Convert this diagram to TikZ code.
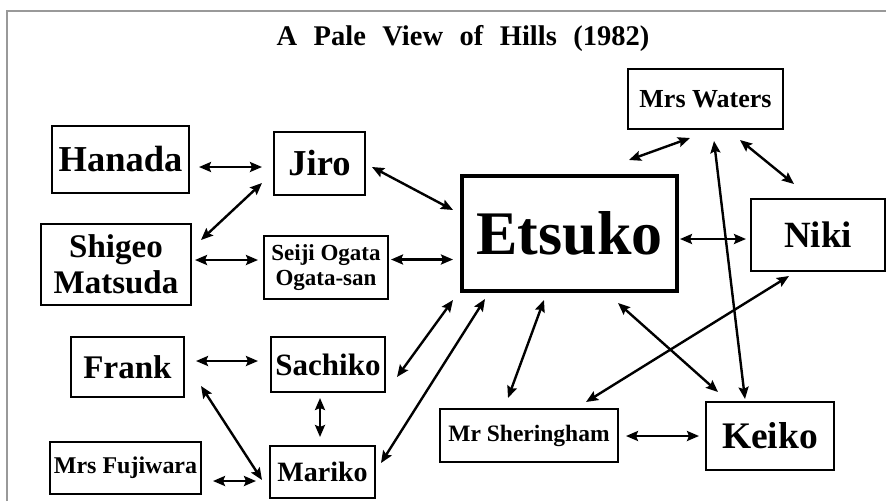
\documentclass[tikz,border=0pt]{standalone}
\usepackage{fontspec}
\setmainfont{Liberation Serif}
\usetikzlibrary{arrows.meta}
\newcommand\fsz[2]{\fontsize{#1}{#2}\selectfont\bfseries}
\tikzset{
  person/.style={draw, line width=2pt, inner sep=0pt, align=center},
  link/.style={line width=2.4pt, arrows={Stealth[length=12pt,width=10pt,inset=2pt]-Stealth[length=12pt,width=10pt,inset=2pt]}},
}

\begin{document}
\begin{tikzpicture}[x=1pt,y=-1pt]
\useasboundingbox (0,0) rectangle (886,501);
\draw[line width=2pt, black!40] (6.7,501) |- (886,10.7);
\node (title) [anchor=base, font=\fsz{28.5}{28}] at (463,45) {\spaceskip=16.5pt A Pale View of Hills (1982)};

\node (hanada) [person, minimum width=137, minimum height=67, font=\fsz{36.5}{36}] at (120.5,159.5) {Hanada};
\node (jiro) [person, minimum width=91, minimum height=63, font=\fsz{36.5}{36}] at (319.5,163.5) {Jiro};
\node (shigeo) [person, minimum width=150, minimum height=81, font=\fsz{33}{36}] at (116,264.5) {Shigeo\\Matsuda};
\node (ogata) [person, minimum width=124, minimum height=63, font=\fsz{23}{25}] at (326,267.5) {Seiji Ogata\\Ogata-san};
\node (etsuko) [person, line width=4pt, minimum width=215, minimum height=115, font=\fsz{62}{62}] at (569.5,233.5) {Etsuko};
\node (waters) [person, minimum width=155, minimum height=60, font=\fsz{26}{26}] at (705.5,99) {Mrs Waters};
\node (niki) [person, minimum width=134, minimum height=72, font=\fsz{37}{37}] at (818,235) {Niki};
\node (frank) [person, minimum width=113, minimum height=60, font=\fsz{33}{33}] at (127.5,367) {Frank};
\node (sachiko) [person, minimum width=114, minimum height=55, font=\fsz{31}{31}] at (328,364.5) {Sachiko};
\node (fujiwara) [person, minimum width=151, minimum height=52, font=\fsz{24}{24}] at (125.5,468) {Mrs Fujiwara};
\node (mariko) [person, minimum width=105, minimum height=52, font=\fsz{28}{28}] at (322.5,472) {Mariko};
\node (sheringham) [person, minimum width=178, minimum height=53, font=\fsz{23.5}{24}] at (529,435.5) {Mr Sheringham};
\node (keiko) [person, minimum width=128, minimum height=68, font=\fsz{37.5}{38}] at (770,436) {Keiko};

\draw[link] ([shift={(9,7.5)}]hanada.east) -- ([shift={(-11,3.5)}]jiro.west);
\draw[link] ([shift={(-11,-13)}]jiro.south west) -- ([shift={(9,17)}]shigeo.north east);
\draw[link] ([shift={(3,-4.5)}]shigeo.east) -- ([shift={(-5,-7.5)}]ogata.west);
\draw[link] ([shift={(2,-8)}]ogata.east) -- ([shift={(-7,26)}]etsuko.west);
\draw[link] ([shift={(6,3.5)}]jiro.east) -- ([shift={(-7,-23.5)}]etsuko.west);
\draw[link] ([shift={(-15.5,8)}]waters.south) -- ([shift={(59.5,-14)}]etsuko.north);
\draw[link] ([shift={(34.5,10)}]waters.south) -- ([shift={(-24,-14)}]niki.north);
\draw[link] ([shift={(8.5,11)}]waters.south) -- ([shift={(-25,-2)}]keiko.north);
\draw[link] ([shift={(1,5.5)}]etsuko.east) -- ([shift={(-4,4)}]niki.west);
\draw[link] ([shift={(-29,4)}]niki.south) -- ([shift={(57,-6)}]sheringham.north);
\draw[link] ([shift={(48.5,10)}]etsuko.south) -- ([shift={(13,-9)}]keiko.north west);
\draw[link] ([shift={(-25.5,7)}]etsuko.south) -- ([shift={(-21,-10)}]sheringham.north);
\draw[link] ([shift={(7,0.5)}]sheringham.east) -- ([shift={(-6,0)}]keiko.west);
\draw[link] ([shift={(-7,7)}]etsuko.south west) -- ([shift={(11,12.5)}]sachiko.east);
\draw[link] ([shift={(25,6)}]etsuko.south west) -- ([shift={(5,-9)}]mariko.east);
\draw[link] ([shift={(11,-6)}]frank.east) -- ([shift={(-12,-3.5)}]sachiko.west);
\draw[link] ([shift={(-8,5)}]sachiko.south) -- ([shift={(-2.5,-8)}]mariko.north);
\draw[link] ([shift={(16,-12)}]frank.south east) -- ([shift={(-7,8)}]mariko.west);
\draw[link] ([shift={(11,13)}]fujiwara.east) -- ([shift={(-13,9)}]mariko.west);
\end{tikzpicture}
\end{document}
